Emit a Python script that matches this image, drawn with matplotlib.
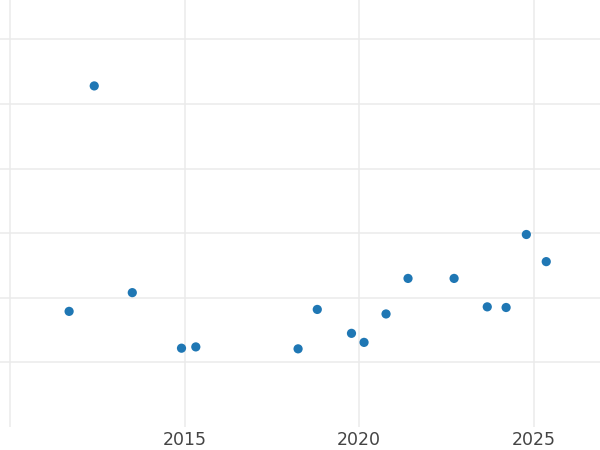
import numpy as np
import matplotlib.pyplot as plt

years = [2011.69, 2012.41, 2013.50, 2014.91, 2015.32, 2018.25, 2018.80, 2019.78,
         2020.14, 2020.77, 2021.40, 2022.72, 2023.67, 2024.21, 2024.79, 2025.36]
values = [1.79, 5.28, 2.08, 1.22, 1.24, 1.21, 1.82, 1.45,
          1.31, 1.75, 2.30, 2.30, 1.86, 1.85, 2.98, 2.56]
xticks = [2010, 2015, 2020, 2025]
xlabels = ['', '2015', '2020', '2025']
yticks = [1, 2, 3, 4, 5, 6]

fig = plt.figure(figsize=(6, 4.5), dpi=100)
ax = fig.add_axes([0, 0.0511, 1, 0.9489])

ax.scatter(years, values, s=44, color='#1f77b4', edgecolors='none', zorder=3)

ax.set_xlim(2009.71, 2026.9)
ax.set_ylim(0, 6.61)
ax.set_xticks(xticks)
ax.set_xticklabels(xlabels)
ax.set_yticks(yticks)
ax.set_yticklabels([])
ax.tick_params(length=0, pad=3, labelsize=12.5, labelcolor='#444444')
ax.grid(True, color='#ebebeb', linewidth=1.1)
ax.set_axisbelow(True)
for sp in ax.spines.values():
    sp.set_visible(False)

fig.savefig('out.png', dpi=100)
